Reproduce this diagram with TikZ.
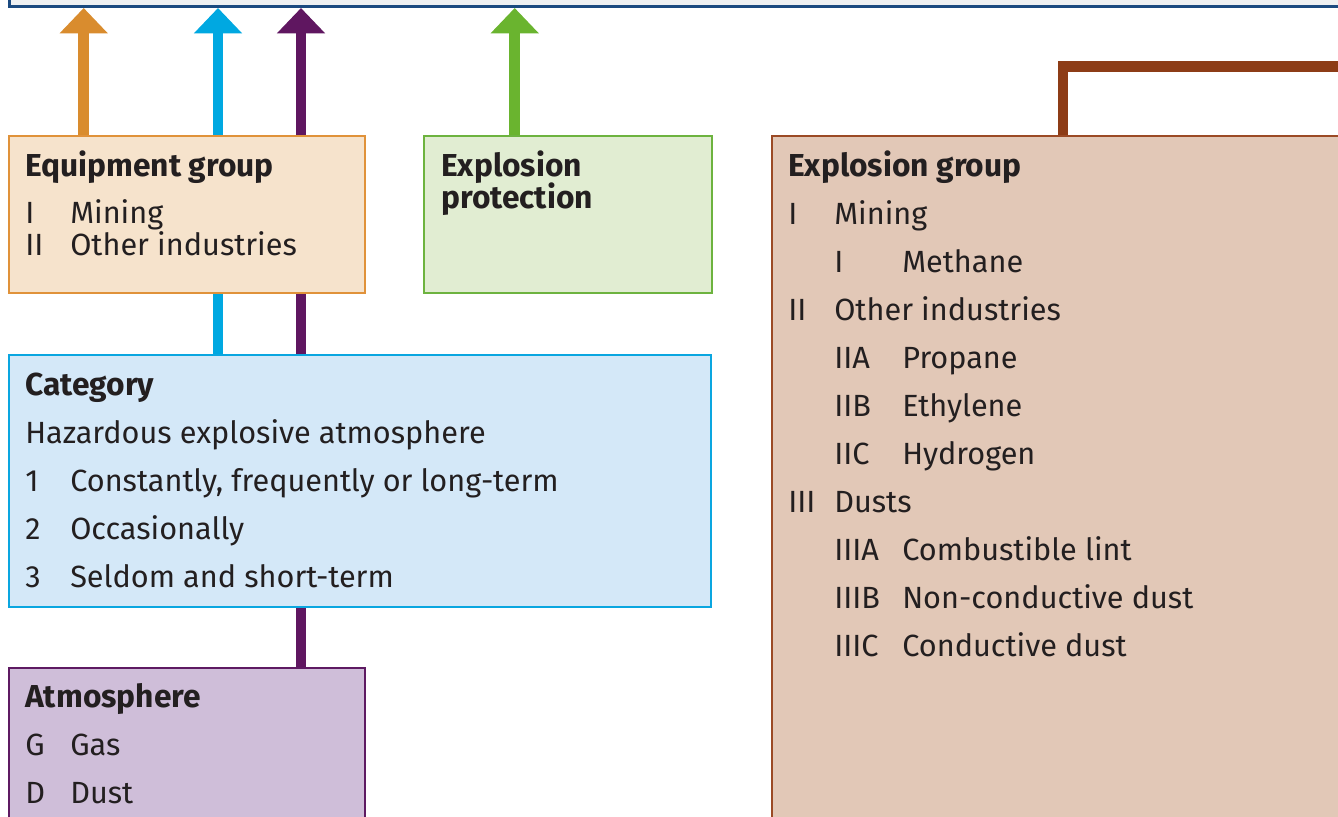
\documentclass[tikz,border=0pt]{standalone}
\usepackage{fontspec}
\setmainfont{Fira Sans}
\usetikzlibrary{arrows.meta}
\pgfdeclarelayer{bg}
\pgfsetlayers{bg,main}
\definecolor{topfill}{HTML}{EEF0F2}
\definecolor{topline}{HTML}{1B4A80}
\definecolor{eqfill}{HTML}{F6E3CC}
\definecolor{eqline}{HTML}{E0923A}
\definecolor{epfill}{HTML}{E1EDD2}
\definecolor{epline}{HTML}{6DB33F}
\definecolor{egfill}{HTML}{E2C8B7}
\definecolor{egline}{HTML}{9B4A25}
\definecolor{catfill}{HTML}{D4E8F8}
\definecolor{catline}{HTML}{0AA6E0}
\definecolor{atmfill}{HTML}{CFBED9}
\definecolor{atmline}{HTML}{5E1A62}
\definecolor{aorange}{HTML}{D98C2E}
\definecolor{acyan}{HTML}{00A8E1}
\definecolor{apurple}{HTML}{5F1660}
\definecolor{agreen}{HTML}{6AB42F}
\definecolor{abrown}{HTML}{8D3C16}
\definecolor{ink}{HTML}{231F20}
\begin{document}
\begin{tikzpicture}[x=0.75pt,y=-0.75pt,
  panel/.style={draw, line width=1.5pt, anchor=north west, inner sep=0pt},
  txt/.style={anchor=base west, inner sep=0pt, text=ink, font=\fontsize{23}{28}\selectfont},
  hd/.style={txt, font=\fontsize{23.8}{28}\selectfont\bfseries},
  uparrow/.style={line width=7.9pt, -{Triangle[width=35pt,length=19pt]}},
  link/.style={line width=7.9pt, line join=miter}]
\useasboundingbox (0,0) rectangle (1338,817);
% panels
\node[panel, draw=topline, line width=2pt, fill=topfill, minimum width=1006pt, minimum height=18.75pt] (topbar) at (8,-20) {};
\node[panel, draw=eqline, fill=eqfill, minimum width=267pt, minimum height=117.75pt] (eq) at (8,135) {};
\node[panel, draw=epline, fill=epfill, minimum width=216pt, minimum height=117.75pt] (ep) at (423,135) {};
\node[panel, draw=egline, fill=egfill, minimum width=450pt, minimum height=525pt] (eg) at (771,135) {};
\node[panel, draw=catline, fill=catfill, minimum width=526.5pt, minimum height=189pt] (cat) at (8,354) {};
\node[panel, draw=atmline, fill=atmfill, minimum width=267pt, minimum height=150pt] (atm) at (8,667) {};
% arrow ends
\coordinate (to) at (83.7,8);
\coordinate (tc) at (218,8);
\coordinate (tp) at (301,8);
\coordinate (tg) at (514.7,8);
\coordinate (bc) at (1063,66.5);
\coordinate (be) at (1360,66.5);
\begin{pgfonlayer}{bg}
\draw[uparrow, aorange] (eq.north -| to) -- (to);
\draw[uparrow, acyan] (cat.north -| tc) -- (tc);
\draw[uparrow, apurple] (atm.north -| tp) -- (tp);
\draw[uparrow, agreen] (ep.north -| tg) -- (tg);
\draw[link, abrown] (eg.north -| bc) -- (bc) -- (be);
\end{pgfonlayer}
% equipment group
\node[hd] (eqh) at (25,176) {Equipment group};
\node[txt] (eqa1) at (25,223) {I};
\node[txt] (eqa2) at (70,223) {Mining};
\node[txt] (eqb1) at (25,255) {II};
\node[txt] (eqb2) at (70,255) {Other industries};
% explosion protection
\node[hd] (eph1) at (441,176) {Explosion};
\node[hd] (eph2) at (441,208) {protection};
% category
\node[hd] (cath) at (25,395) {Category};
\node[txt] (cat0) at (25,443) {Hazardous explosive atmosphere};
\node[txt] (cata1) at (25,491) {1};
\node[txt] (cata2) at (70,491) {Constantly, frequently or long-term};
\node[txt] (catb1) at (25,539) {2};
\node[txt] (catb2) at (70,539) {Occasionally};
\node[txt] (catc1) at (25,587) {3};
\node[txt] (catc2) at (70,587) {Seldom and short-term};
% atmosphere
\node[hd] (atmh) at (25,707) {Atmosphere};
\node[txt] (atma1) at (25,755) {G};
\node[txt] (atma2) at (70,755) {Gas};
\node[txt] (atmb1) at (25,803) {D};
\node[txt] (atmb2) at (70,803) {Dust};
% explosion group
\node[hd] (egh) at (788,176) {Explosion group};
\node[txt] (eg1a) at (788,224) {I};
\node[txt] (eg1b) at (834,224) {Mining};
\node[txt] (eg2a) at (834,272) {I};
\node[txt] (eg2b) at (902,272) {Methane};
\node[txt] (eg3a) at (788,320) {II};
\node[txt] (eg3b) at (834,320) {Other industries};
\node[txt] (eg4a) at (834,368) {IIA};
\node[txt] (eg4b) at (902,368) {Propane};
\node[txt] (eg5a) at (834,416) {IIB};
\node[txt] (eg5b) at (902,416) {Ethylene};
\node[txt] (eg6a) at (834,464) {IIC};
\node[txt] (eg6b) at (902,464) {Hydrogen};
\node[txt] (eg7a) at (788,512) {III};
\node[txt] (eg7b) at (834,512) {Dusts};
\node[txt] (eg8a) at (834,560) {IIIA};
\node[txt] (eg8b) at (902,560) {Combustible lint};
\node[txt] (eg9a) at (834,608) {IIIB};
\node[txt] (eg9b) at (902,608) {Non-conductive dust};
\node[txt] (eg10a) at (834,656) {IIIC};
\node[txt] (eg10b) at (902,656) {Conductive dust};
\end{tikzpicture}
\end{document}
